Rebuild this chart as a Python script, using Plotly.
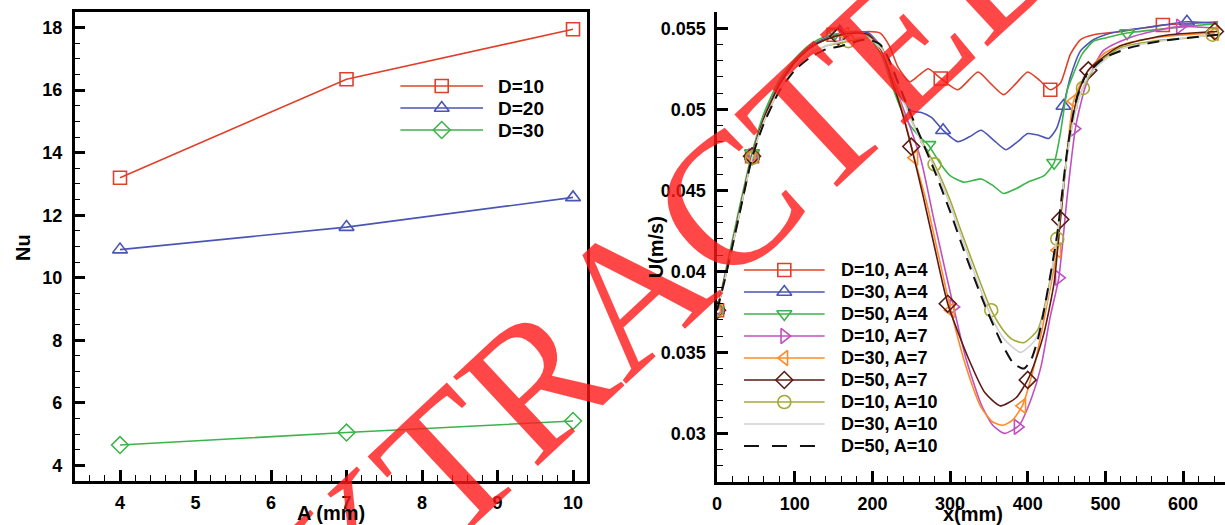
import plotly.graph_objects as go

# ---------------- Left panel data ----------------
A_vals = [4, 7, 10]
Nu_D10 = [13.2, 16.35, 17.95]
Nu_D20 = [10.9, 11.62, 12.57]
Nu_D30 = [4.65, 5.05, 5.42]

# ---------------- Right panel data ----------------
x_D10A4 = [0,10,20,30,45,60,80,100,120,140,160,180,195,210,222,233,248,260,272,288,310,336,352,369,385,400,415,429,442,455,468,485,520,574,610,645]
u_D10A4 = [.0376,.0396,.0417,.0439,.0471,.0494,.0515,.0529,.0538,.0543,.0546,.0547,.0548,.0547,.0539,.0526,.0517,.0521,.0525,.0519,.0512,.0523,.0516,.0509,.0516,.0523,.0518,.0512,.0516,.0534,.0543,.0546,.0548,.0552,.0553,.0554]

x_D30A4 = [0,10,20,30,45,60,80,100,120,140,160,180,195,212,225,237,250,263,276,291,310,325,340,356,372,387,400,414,427,437,446,455,468,485,500,530,562,605,645]
u_D30A4 = [.0376,.0396,.0417,.0439,.0471,.0495,.0516,.0530,.0539,.0544,.0547,.0548,.0547,.0538,.0522,.0507,.0499,.0498,.0495,.0487,.0480,.0483,.0487,.0481,.0475,.0480,.0485,.0484,.0482,.0488,.0502,.0520,.0536,.0543,.0546,.0549,.0551,.0554,.0553]

x_D50A4 = [0,10,20,30,45,60,80,100,120,140,160,180,195,212,225,237,250,263,272,288,300,318,340,355,369,385,400,421,434,442,451,459,470,485,500,528,583,645]
u_D50A4 = [.0376,.0398,.0420,.0442,.0473,.0497,.0518,.0531,.0540,.0545,.0547,.0548,.0545,.0533,.0515,.0500,.0489,.0482,.0478,.0466,.0459,.0455,.0457,.0453,.0448,.0451,.0455,.0459,.0467,.0485,.0512,.0522,.0534,.0542,.0544,.0547,.0550,.0553]

x_D10A7 = [0,10,20,30,45,60,80,100,120,140,160,180,195,212,225,237,250,263,280,305,320,340,355,370,389,405,417,429,440,451,462,475,497,530,560,596,645]
u_D10A7 = [.0376,.0396,.0417,.0439,.0471,.0494,.0515,.0529,.0538,.0543,.0546,.0547,.0546,.0538,.0521,.0504,.0487,.0468,.0430,.0377,.0347,.0318,.0305,.0300,.0305,.0322,.0341,.0372,.0396,.0447,.0490,.0515,.0536,.0544,.0548,.0551,.0550]

x_D30A7 = [0,10,20,30,45,60,80,100,120,140,160,180,195,212,225,237,254,270,285,301,320,340,355,368,380,393,410,425,438,448,459,475,500,530,580,641]
u_D30A7 = [.0376,.0396,.0417,.0439,.0471,.0494,.0515,.0529,.0538,.0543,.0546,.0547,.0546,.0537,.0520,.0502,.0470,.0442,.0410,.0376,.0342,.0316,.0307,.0305,.0308,.0317,.0345,.0380,.0413,.0460,.0505,.0522,.0535,.0541,.0545,.0547]

x_D50A7 = [0,10,20,30,45,60,80,100,120,140,160,180,195,212,225,237,250,265,280,297,323,345,365,385,400,410,421,434,442,452,465,478,500,519,550,583,644]
u_D50A7 = [.0376,.0396,.0417,.0439,.0471,.0494,.0515,.0529,.0538,.0543,.0546,.0547,.0546,.0536,.0518,.0500,.0477,.0447,.0415,.0380,.0347,.0325,.0317,.0322,.0333,.0345,.0362,.0393,.0432,.0478,.0510,.0524,.0533,.0539,.0543,.0546,.0548]

x_D10A10 = [0,10,20,30,45,60,80,100,120,140,160,180,195,212,225,237,250,265,280,300,314,335,353,368,380,395,413,426,438,446,456,464,471,490,519,560,605,638]
u_D10A10 = [.0376,.0395,.0416,.0438,.0470,.0492,.0512,.0525,.0534,.0539,.0541,.0543,.0544,.0538,.0524,.0510,.0494,.0479,.0466,.0444,.0425,.0398,.0376,.0364,.0358,.0356,.0364,.0388,.0420,.0454,.0488,.0504,.0513,.0528,.0538,.0542,.0544,.0546]

x_D30A10 = [0,10,20,30,45,60,80,100,120,140,160,180,195,212,225,237,250,265,280,300,314,335,353,370,391,410,426,440,452,465,480,520,600,645]
u_D30A10 = [.0376,.0395,.0416,.0438,.0470,.0492,.0512,.0525,.0534,.0539,.0542,.0544,.0544,.0537,.0523,.0509,.0493,.0478,.0464,.0441,.0422,.0394,.0372,.0358,.0350,.0358,.0385,.0430,.0475,.0505,.0522,.0537,.0544,.0546]

x_D50A10 = [0,10,20,30,45,60,80,100,120,140,160,180,195,210,220,240,260,280,300,320,344,365,382,395,404,413,421,430,438,451,462,475,500,532,570,605,645]
u_D50A10 = [.0376,.0395,.0416,.0438,.0470,.0491,.0511,.0524,.0532,.0537,.0539,.0542,.0543,.0540,.0532,.0508,.0485,.0462,.0437,.0410,.0380,.0357,.0343,.0340,.0345,.0358,.0376,.0400,.0423,.0475,.0505,.0521,.0532,.0538,.0542,.0544,.0546]

# symbol positions along each curve
mx_D10A4 = [0, 45, 150, 288, 429, 574]
mu_D10A4 = [.0376, .0471, .0546, .0519, .0512, .0552]
mx_D30A4 = [0, 45, 158, 291, 446, 605]
mu_D30A4 = [.0376, .0471, .0548, .0487, .0502, .0554]
mx_D50A4 = [0, 45, 152, 272, 434, 528]
mu_D50A4 = [.0376, .0473, .0547, .0478, .0467, .0547]
mx_D10A7 = [0, 45, 162, 304, 387, 440, 460, 596]
mu_D10A7 = [.0376, .0471, .0546, .0378, .0304, .0396, .0488, .0551]
mx_D30A7 = [0, 45, 165, 254, 301, 393, 438, 459, 641]
mu_D30A7 = [.0376, .0471, .0546, .0470, .0376, .0317, .0413, .0505, .0547]
mx_D50A7 = [0, 45, 156, 250, 297, 400, 442, 478, 641]
mu_D50A7 = [.0376, .0471, .0545, .0477, .0380, .0333, .0432, .0524, .0548]
mx_D10A10 = [0, 45, 169, 280, 353, 438, 471, 638]
mu_D10A10 = [.0376, .0470, .0542, .0466, .0376, .0420, .0513, .0546]

W, H = 1225, 525
FONT = "Liberation Sans, Arial, sans-serif"

# axis geometry (pixels)
L_X0, L_X1, L_Y0, L_Y1 = 70, 584, 12, 481
L_XR, L_YR = [3.4, 10.18], [3.5, 18.5]
R_X0, R_X1, R_Y0, R_Y1 = 715, 1225, 12, 482
R_XR, R_YR = [0, 654], [0.027, 0.056]


def px_to_data(px, py, x0, x1, y0, y1, xr, yr):
    dx = xr[0] + (px - x0) / (x1 - x0) * (xr[1] - xr[0])
    dy = yr[1] - (py - y0) / (y1 - y0) * (yr[1] - yr[0])
    return dx, dy


fig = go.Figure()
legend_font = dict(family=FONT, size=19, color="black", weight="bold")

# ---- left panel
left_series = [
    ("D=10", Nu_D10, "#E0402A", "square-open"),
    ("D=20", Nu_D20, "#4A55B5", "triangle-up-open"),
    ("D=30", Nu_D30, "#3CB44A", "diamond-open"),
]
for i, (name, ys, col, sym) in enumerate(left_series):
    mk = dict(symbol=sym, size=13, color=col, line=dict(color=col, width=1.6))
    fig.add_trace(go.Scatter(
        x=A_vals, y=ys, name=name, mode="lines+markers",
        line=dict(color=col, width=1.6), marker=mk, xaxis="x", yaxis="y"))
    # legend sample
    ly = 86 + 22 * i
    xa, ya = px_to_data(397, ly, L_X0, L_X1, L_Y0, L_Y1, L_XR, L_YR)
    xb, _ = px_to_data(480, ly, L_X0, L_X1, L_Y0, L_Y1, L_XR, L_YR)
    fig.add_trace(go.Scatter(x=[xa, xb], y=[ya, ya], mode="lines", line=dict(color=col, width=1.6),
                             hoverinfo="skip", xaxis="x", yaxis="y"))
    fig.add_trace(go.Scatter(x=[(xa + xb) / 2], y=[ya], mode="markers", marker=mk,
                             hoverinfo="skip", xaxis="x", yaxis="y"))
    fig.add_annotation(text=name, xref="paper", yref="paper", x=493 / W, y=1 - ly / H,
                       xanchor="left", yanchor="middle", showarrow=False, font=legend_font)

# ---- right panel
right_series = [
    ("D=10, A=4", x_D10A4, u_D10A4, mx_D10A4, mu_D10A4, "#E0402A", "square-open", "solid"),
    ("D=30, A=4", x_D30A4, u_D30A4, mx_D30A4, mu_D30A4, "#4A55B5", "triangle-up-open", "solid"),
    ("D=50, A=4", x_D50A4, u_D50A4, mx_D50A4, mu_D50A4, "#3CB44A", "triangle-down-open", "solid"),
    ("D=10, A=7", x_D10A7, u_D10A7, mx_D10A7, mu_D10A7, "#C050C0", "triangle-right-open", "solid"),
    ("D=30, A=7", x_D30A7, u_D30A7, mx_D30A7, mu_D30A7, "#FF8A2A", "triangle-left-open", "solid"),
    ("D=50, A=7", x_D50A7, u_D50A7, mx_D50A7, mu_D50A7, "#5C1A14", "diamond-open", "solid"),
    ("D=10, A=10", x_D10A10, u_D10A10, mx_D10A10, mu_D10A10, "#A4A834", "circle-open", "solid"),
    ("D=30, A=10", x_D30A10, u_D30A10, None, None, "#D2D2D2", None, "solid"),
    ("D=50, A=10", x_D50A10, u_D50A10, None, None, "#111111", None, "dash"),
]
for i, (name, xs, us, mxs, mus, col, sym, dash) in enumerate(right_series):
    lw = 2.0 if dash == "dash" else 1.6
    mk = dict(symbol=sym or "circle", size=13, color=col, line=dict(color=col, width=1.6))
    fig.add_trace(go.Scatter(
        x=xs, y=us, name=name, mode="lines",
        line=dict(color=col, width=lw, dash="12px,8px" if dash == "dash" else "solid",
                  shape="spline", smoothing=0.6),
        xaxis="x2", yaxis="y2"))
    if mxs is not None:
        fig.add_trace(go.Scatter(x=mxs, y=mus, mode="markers", marker=mk,
                                 xaxis="x2", yaxis="y2"))
    # legend sample
    ly = 270 + 22 * i
    xa, ya = px_to_data(742, ly, R_X0, R_X1, R_Y0, R_Y1, R_XR, R_YR)
    xb, _ = px_to_data(823, ly, R_X0, R_X1, R_Y0, R_Y1, R_XR, R_YR)
    fig.add_trace(go.Scatter(x=[xa, xb], y=[ya, ya], mode="lines",
                             line=dict(color=col, width=lw,
                                       dash="15px,13px" if dash == "dash" else "solid"),
                             hoverinfo="skip", xaxis="x2", yaxis="y2"))
    if sym:
        fig.add_trace(go.Scatter(x=[(xa + xb) / 2], y=[ya], mode="markers", marker=mk,
                                 hoverinfo="skip", xaxis="x2", yaxis="y2"))
    fig.add_annotation(text=name, xref="paper", yref="paper", x=837 / W, y=1 - ly / H,
                       xanchor="left", yanchor="middle", showarrow=False,
                       font=dict(family=FONT, size=18, color="black", weight="bold"))

# watermark text
fig.add_annotation(text="EXTRACTED", xref="paper", yref="paper",
                   x=628 / W, y=1 - 292 / H, showarrow=False, textangle=-43,
                   xanchor="center", yanchor="middle",
                   font=dict(family="Liberation Serif, Times New Roman, serif", size=188,
                             color="rgba(255,25,25,0.8)"))

# axis titles
title_font = dict(family=FONT, size=20, color="black", weight="bold")
for txt, px, py, ang in [("Nu", 18, 247, -90), ("A (mm)", 327, 513, 0),
                         ("U(m/s)", 654, 247, -90), ("x(mm)", 972, 514, 0)]:
    fig.add_annotation(text=txt, xref="paper", yref="paper", x=px / W, y=1 - py / H,
                       xanchor="center", yanchor="middle", showarrow=False,
                       textangle=ang, font=title_font)

tickfont = dict(family=FONT, size=18, color="black", weight="bold")
common = dict(showline=True, linecolor="black", linewidth=2.5, ticks="inside", ticklen=11,
              tickwidth=2.5, tickcolor="black", showgrid=False, zeroline=False,
              tickfont=tickfont)

fig.update_layout(
    width=W, height=H, margin=dict(l=0, r=0, t=0, b=0),
    paper_bgcolor="white", plot_bgcolor="white", showlegend=False,
    xaxis=dict(domain=[L_X0 / W, L_X1 / W], range=L_XR, dtick=1, tick0=0, mirror=True,
               ticklabelstandoff=4,
               minor=dict(dtick=0.2, ticks="inside", ticklen=6, tickwidth=1.2, tickcolor="black"),
               anchor="y", **common),
    yaxis=dict(domain=[1 - L_Y1 / H, 1 - L_Y0 / H], range=L_YR, dtick=2, tick0=0, mirror=True,
               ticklabelstandoff=6,
               minor=dict(dtick=0.5, ticks="inside", ticklen=6, tickwidth=1.2, tickcolor="black"),
               anchor="x", **common),
    xaxis2=dict(domain=[R_X0 / W, 1.0], range=R_XR, dtick=100, tick0=0, mirror=False,
                ticklabelstandoff=4,
                minor=dict(dtick=20, ticks="inside", ticklen=6, tickwidth=1.2, tickcolor="black"),
                anchor="y2", **common),
    xaxis3=dict(overlaying="x2", domain=[R_X0 / W, 1.0], range=R_XR, side="top",
                showline=True, linecolor="black", linewidth=2.5, showticklabels=False,
                ticks="", showgrid=False, zeroline=False, anchor="y2"),
    yaxis2=dict(domain=[1 - R_Y1 / H, 1 - R_Y0 / H], range=R_YR, mirror=False,
                tickvals=[0.03, 0.035, 0.04, 0.045, 0.05, 0.055],
                ticktext=["0.03", "0.035", "0.04", "0.045", "0.05", "0.055"],
                ticklabelstandoff=5,
                minor=dict(dtick=0.001, ticks="inside", ticklen=6, tickwidth=1.2, tickcolor="black"),
                anchor="x2", **common),
)

fig.write_html("out.html")
